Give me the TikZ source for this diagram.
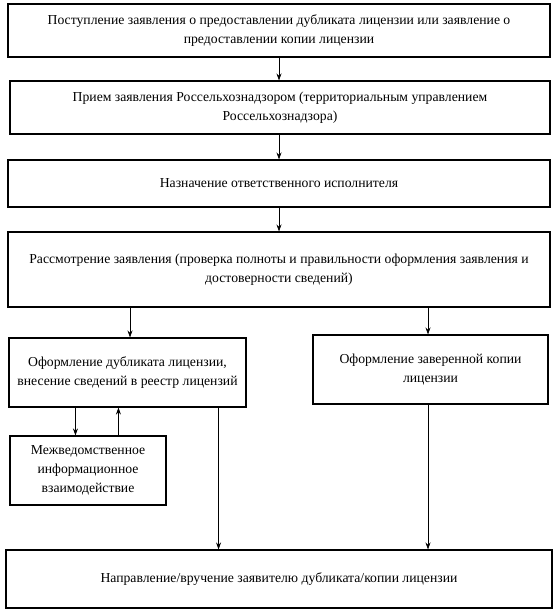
\documentclass[tikz,border=0pt]{standalone}
\usepackage{fontspec}
\setmainfont{Liberation Serif}
\usetikzlibrary{arrows.meta,calc}
\begin{document}
\begin{tikzpicture}[x=1pt,y=-1pt,
  box/.style={draw, line width=1.1pt, rectangle, align=center, inner sep=0pt,
    font=\fontsize{13.7}{19}\selectfont},
  arr/.style={line width=0.8pt, -{Stealth[length=7pt,width=5pt]}}]
\useasboundingbox (0,0) rectangle (558,615);
\node[box, minimum width=542pt, minimum height=53pt] (b1) at (279,30.5)
  {Поступление заявления о предоставлении дубликата лицензии или заявление о\\предоставлении копии лицензии};
\node[box, minimum width=540pt, minimum height=53pt] (b2) at (280,107.5)
  {Прием заявления Россельхознадзором (территориальным управлением\\Россельхознадзора)};
\node[box, minimum width=542pt, minimum height=47pt] (b3) at (279,183.5)
  {Назначение ответственного исполнителя};
\node[box, minimum width=542pt, minimum height=75pt] (b4) at (279,269.5)
  {Рассмотрение заявления (проверка полноты и правильности оформления заявления и\\достоверности сведений)};
\node[box, minimum width=237pt, minimum height=69pt] (b5) at (127.5,372.5)
  {Оформление дубликата лицензии,\\внесение сведений в реестр лицензий};
\node[box, minimum width=235pt, minimum height=69pt] (b6) at (430.5,369.5)
  {Оформление заверенной копии\\лицензии};
\node[box, minimum width=156pt, minimum height=69pt] (b7) at (88,470.5)
  {Межведомственное\\информационное\\взаимодействие};
\node[box, minimum width=546pt, minimum height=58pt] (b8) at (279,579)
  {Направление/вручение заявителю дубликата/копии лицензии};
\draw[arr] (b1.south) -- (b1.south |- b2.north);
\draw[arr] (b2.south -| b1.south) -- (b3.north);
\draw[arr] (b3.south) -- (b4.north);
\draw[arr] ([xshift=2.5pt]b5.north |- b4.south) -- ([xshift=2.5pt]b5.north);
\draw[arr] ([xshift=-2.5pt]b6.north |- b4.south) -- ([xshift=-2.5pt]b6.north);
\draw[arr] ([xshift=66pt]b7.north west |- b5.south) -- ([xshift=66pt]b7.north west);
\draw[arr] ([xshift=109pt]b7.north west) -- ([xshift=109pt]b7.north west |- b5.south);
\draw[arr] ([xshift=-28pt]b5.south east) -- ([xshift=-28pt]b5.south east |- b8.north);
\draw[arr] ([xshift=-2.5pt]b6.south) -- ([xshift=-2.5pt]b6.south |- b8.north);
\end{tikzpicture}
\end{document}
